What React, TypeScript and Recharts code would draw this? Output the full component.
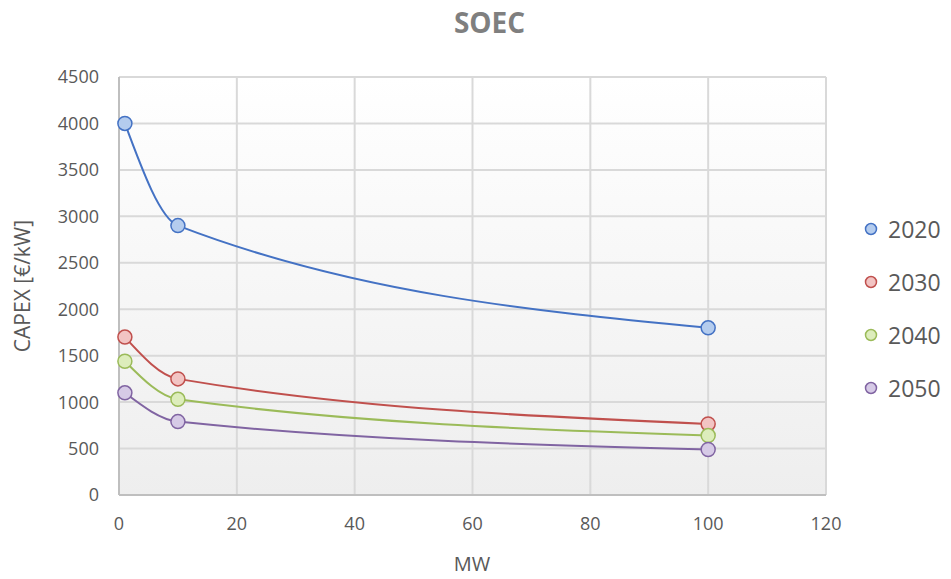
import React from "react";
import { LineChart, Line, XAxis, YAxis, CartesianGrid } from "recharts";

const mw = [1, 10, 100];
const capex2020 = [4000, 2900, 1800];
const capex2030 = [1700, 1250, 765];
const capex2040 = [1440, 1030, 640];
const capex2050 = [1100, 790, 490];
const xTicks = [0, 20, 40, 60, 80, 100, 120];
const yTicks = [0, 500, 1000, 1500, 2000, 2500, 3000, 3500, 4000, 4500];

const series = [
  { name: "2020", values: capex2020, stroke: "#4472C4", fill: "#B4CCEE" },
  { name: "2030", values: capex2030, stroke: "#C0504D", fill: "#F2C4C3" },
  { name: "2040", values: capex2040, stroke: "#9BBB59", fill: "#DDEDBC" },
  { name: "2050", values: capex2050, stroke: "#8064A2", fill: "#D6CAE6" },
];

const font = "'Open Sans', 'Liberation Sans', sans-serif";

// legend kept outside the chart so it doesn't eat plot width
const LegendBox = () => (
  <div style={{ position: "absolute", left: 864, top: 202, fontFamily: font }}>
    {series.map((s) => (
      <div key={s.name} style={{ display: "flex", alignItems: "center", height: 53 }}>
        <svg width={14} height={14} style={{ marginRight: 10 }}>
          <circle cx={7} cy={7} r={5.5} fill={s.fill} stroke={s.stroke} strokeWidth={1.5} />
        </svg>
        <span style={{ fontSize: 23, color: "#595959" }}>{s.name}</span>
      </div>
    ))}
  </div>
);

export default function App() {
  return (
    <div style={{ position: "absolute", left: 0, top: 0, width: 951, height: 579, background: "#fff" }}>
      <div style={{ position: "absolute", top: 3, width: 951, textAlign: "center", left: 14,
        fontFamily: font, fontWeight: 700, fontSize: 28, color: "#7f7f7f" }}>SOEC</div>
      <div style={{ position: "absolute", left: 22, top: 286, transform: "translate(-50%, -50%) rotate(-90deg)",
        fontFamily: font, fontSize: 21, color: "#595959", whiteSpace: "nowrap" }}>CAPEX [€/kW]</div>
      <div style={{ position: "absolute", left: 472, top: 563, transform: "translate(-50%, -50%)",
        fontFamily: font, fontSize: 20, color: "#595959" }}>MW</div>
      <LineChart width={951} height={579} margin={{ top: 77, right: 125, bottom: 54, left: 59 }}>
        <defs>
          <linearGradient id="bg" x1="0" y1="0" x2="0" y2="1">
            <stop offset="0%" stopColor="#ffffff" />
            <stop offset="100%" stopColor="#eeeeee" />
          </linearGradient>
        </defs>
        <CartesianGrid stroke="#d9d9d9" strokeWidth={2} fill="url(#bg)" fillOpacity={1}
          verticalValues={xTicks} horizontalValues={yTicks} />
        <XAxis type="number" dataKey="x" domain={[0, 120]} ticks={xTicks} height={30}
          allowDuplicatedCategory={false}
          axisLine={{ stroke: "#bfbfbf", strokeWidth: 2 }} tickLine={false}
          tick={{ fill: "#595959", fontSize: 18, fontFamily: font }} tickMargin={16} />
        <YAxis type="number" domain={[0, 4500]} ticks={yTicks} width={60}
          axisLine={{ stroke: "#bfbfbf", strokeWidth: 2 }} tickLine={false}
          tick={{ fill: "#595959", fontSize: 18, fontFamily: font }} tickMargin={14} />
        {series.map((s) => (
          <Line key={s.name} name={s.name} type="monotoneX" isAnimationActive={false}
            data={mw.map((x, i) => ({ x, y: s.values[i] }))} dataKey="y"
            stroke={s.stroke} strokeWidth={2}
            dot={{ r: 7, fill: s.fill, stroke: s.stroke, strokeWidth: 1.5, fillOpacity: 1 }}
            activeDot={false} />
        ))}
      </LineChart>
      <LegendBox />
    </div>
  );
}
